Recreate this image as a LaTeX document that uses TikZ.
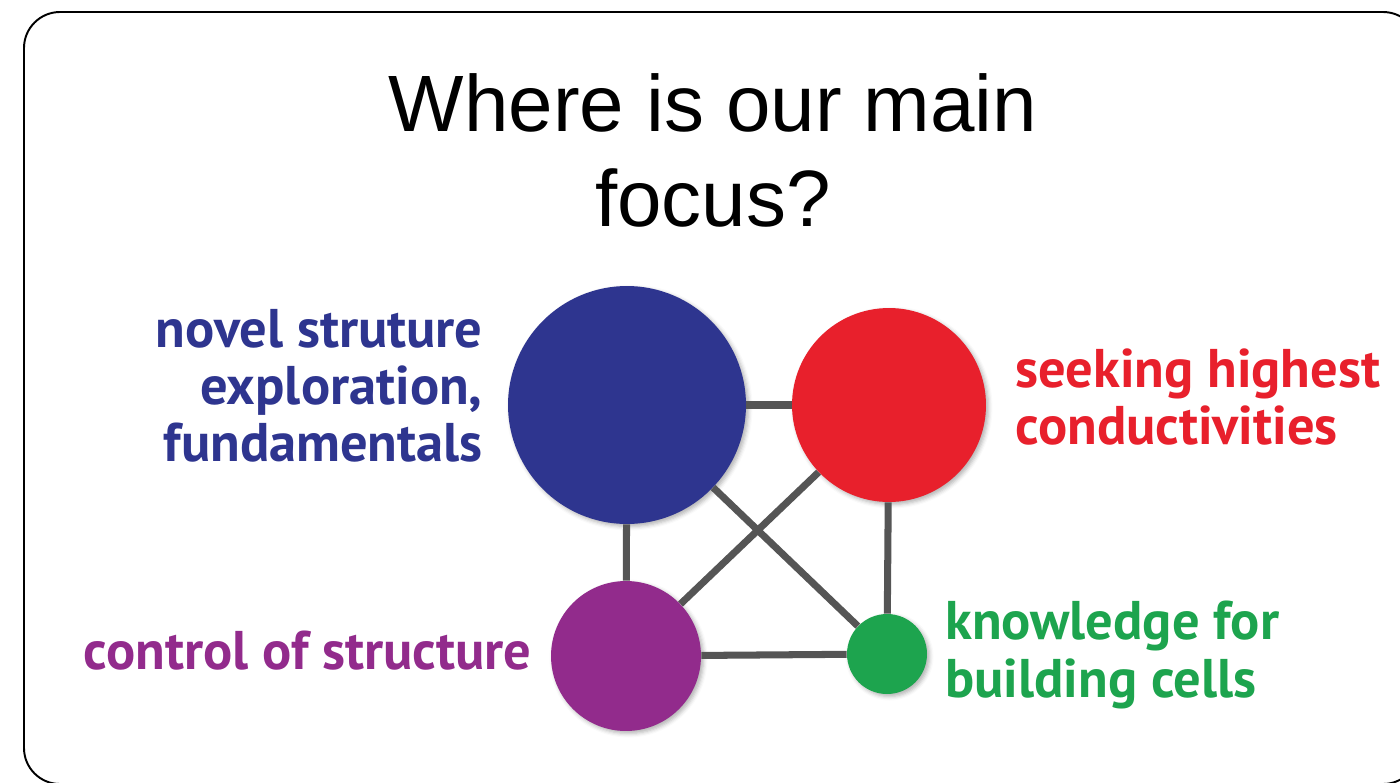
\documentclass[tikz,border=0pt]{standalone}
\usepackage{fontspec}
\setmainfont{Liberation Sans}
\newfontfamily\tagfont{PT Sans}
\usetikzlibrary{positioning, shadows.blur}

\definecolor{focusblue}{RGB}{46,53,143}
\definecolor{focusred}{RGB}{232,32,44}
\definecolor{focuspurple}{RGB}{146,43,140}
\definecolor{focusgreen}{RGB}{29,164,78}
\definecolor{linkgray}{RGB}{85,85,85}

\begin{document}
\begin{tikzpicture}[x=0.02cm, y=-0.02cm]
	\tikzstyle{bubble} = [circle, inner sep=0pt, blur shadow={shadow xshift=0.05cm, shadow yshift=-0.05cm, shadow blur radius=0.08cm, shadow opacity=30}]
	\tikzstyle{tag} = [font=\tagfont\bfseries\fontsize{31}{32.5}\selectfont, inner sep=0pt]
	\tikzstyle{link} = [draw=linkgray, line width=4pt]

	\useasboundingbox (0,0) rectangle (1400,782);
	\draw[line width=1.1pt, rounded corners=0.72cm] (24,12) rectangle (1419,784);

	\node[font=\fontsize{45.5}{54}\selectfont, align=center] (title) at (713,150) {Where is our main\\focus?};

	% the four topics
	\node[bubble, fill=focusblue, minimum size=4.76cm] (blue) at (627,405) {};
	\node[bubble, fill=focusred, minimum size=3.88cm] (red) at (889,405) {};
	\node[bubble, fill=focuspurple, minimum size=3.0cm] (purple) at (626,656) {};
	\node[bubble, fill=focusgreen, minimum size=1.6cm] (green) at (887,654) {};

	\path[link]
		(blue) edge (red)
		(blue) edge (purple)
		(blue) edge (green)
		(red) edge (purple)
		(red) edge (green)
		(purple) edge (green)
	;

	\node[tag, text=focusblue, align=right, anchor=east] (bluetag) at (483,386) {novel struture\\exploration,\\fundamentals};
	\node[tag, text=focusred, align=left, anchor=west] (redtag) at (1015,397) {seeking highest\\conductivities};
	\node[tag, text=focuspurple, anchor=east] (purpletag) at (532,651) {control of structure};
	\node[tag, text=focusgreen, align=left, anchor=west] (greentag) at (945,655) {knowledge for\\building cells};
\end{tikzpicture}
\end{document}
